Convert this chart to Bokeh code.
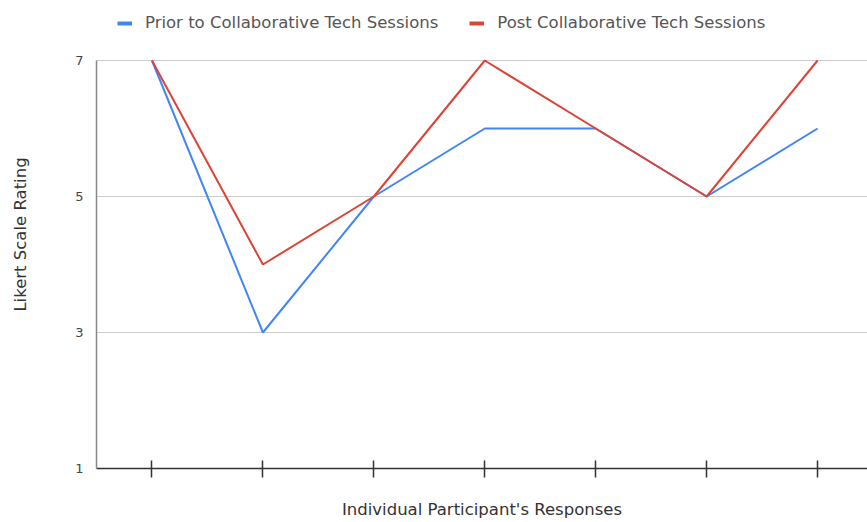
from bokeh.plotting import figure
from bokeh.models import FixedTicker, Legend, LegendItem, Range1d
from bokeh.embed import file_html
from bokeh.resources import INLINE

# Likert ratings for each participant, before and after the sessions
participants = [0, 1, 2, 3, 4, 5, 6]
prior_ratings = [7, 3, 5, 6, 6, 5, 6]
post_ratings = [7, 4, 5, 7, 6, 5, 7]
y_ticks = [1, 3, 5, 7]

BLUE = "#4285F4"
RED = "#DB4437"
FONT = "DejaVu Sans"
TEXT_SIZE = "16.5px"

# the frame runs to the top edge so the legend can sit inside it;
# the y axis line is bounded to the 1..7 rating scale
p = figure(width=867, height=522, output_backend="svg", toolbar_location=None,
           x_range=Range1d(-0.5, 6.45), y_range=Range1d(1, 1 + 468 / 68),
           min_border_left=96, min_border_right=0, min_border_top=0,
           min_border_bottom=54)
p.outline_line_color = None
p.background_fill_color = "white"
p.border_fill_color = "white"

prior = p.line(participants, prior_ratings, line_color=BLUE, line_width=2)
post = p.line(participants, post_ratings, line_color=RED, line_width=2)

# thicker stand-ins (no visible data) so the legend swatches read as short bars
nan = float("nan")
prior_key = p.line([nan], [nan], line_color=BLUE, line_width=4)
post_key = p.line([nan], [nan], line_color=RED, line_width=4)

legend = Legend(items=[
    LegendItem(label="Prior to Collaborative Tech Sessions", renderers=[prior_key]),
    LegendItem(label="Post Collaborative Tech Sessions", renderers=[post_key]),
], orientation="horizontal", location=(21, 436),
    label_text_font=FONT, label_text_font_size=TEXT_SIZE, label_text_color="#555555",
    glyph_width=15, glyph_height=14, spacing=31, label_standoff=13,
    border_line_color=None, background_fill_alpha=0, padding=8, margin=0)
p.add_layout(legend, "center")

# y axis
p.yaxis.ticker = FixedTicker(ticks=y_ticks)
p.yaxis.bounds = (1, 7)
p.yaxis.major_tick_line_color = None
p.yaxis.minor_tick_line_color = None
p.yaxis.axis_line_color = "#888888"
p.yaxis.axis_line_width = 1.5
p.yaxis.major_label_standoff = 7
p.yaxis.major_label_text_font = FONT
p.yaxis.major_label_text_font_size = "13px"
p.yaxis.major_label_text_color = "#444444"
p.yaxis.axis_label = "Likert Scale Rating"
p.yaxis.axis_label_text_font = FONT
p.yaxis.axis_label_text_font_size = TEXT_SIZE
p.yaxis.axis_label_text_font_style = "normal"
p.yaxis.axis_label_text_color = "#333333"
p.yaxis.axis_label_standoff = 42

# x axis: tick marks only, no tick labels
p.xaxis.ticker = FixedTicker(ticks=participants)
p.xaxis.major_label_overrides = {i: "" for i in participants}
p.xaxis.major_label_standoff = 0
p.xaxis.major_tick_in = 8
p.xaxis.major_tick_out = 9
p.xaxis.major_tick_line_color = "#333333"
p.xaxis.major_tick_line_width = 1.5
p.xaxis.minor_tick_line_color = None
p.xaxis.axis_line_color = "#333333"
p.xaxis.axis_line_width = 1.5
p.xaxis.axis_label = "Individual Participant's Responses"
p.xaxis.axis_label_text_font = FONT
p.xaxis.axis_label_text_font_size = TEXT_SIZE
p.xaxis.axis_label_text_font_style = "normal"
p.xaxis.axis_label_text_color = "#333333"
p.xaxis.axis_label_standoff = 22

p.xgrid.grid_line_color = None
p.ygrid.ticker = FixedTicker(ticks=[3, 5, 7])
p.ygrid.grid_line_color = "#cccccc"
p.ygrid.grid_line_width = 1

open("out.html", "w").write(file_html(p, INLINE))
